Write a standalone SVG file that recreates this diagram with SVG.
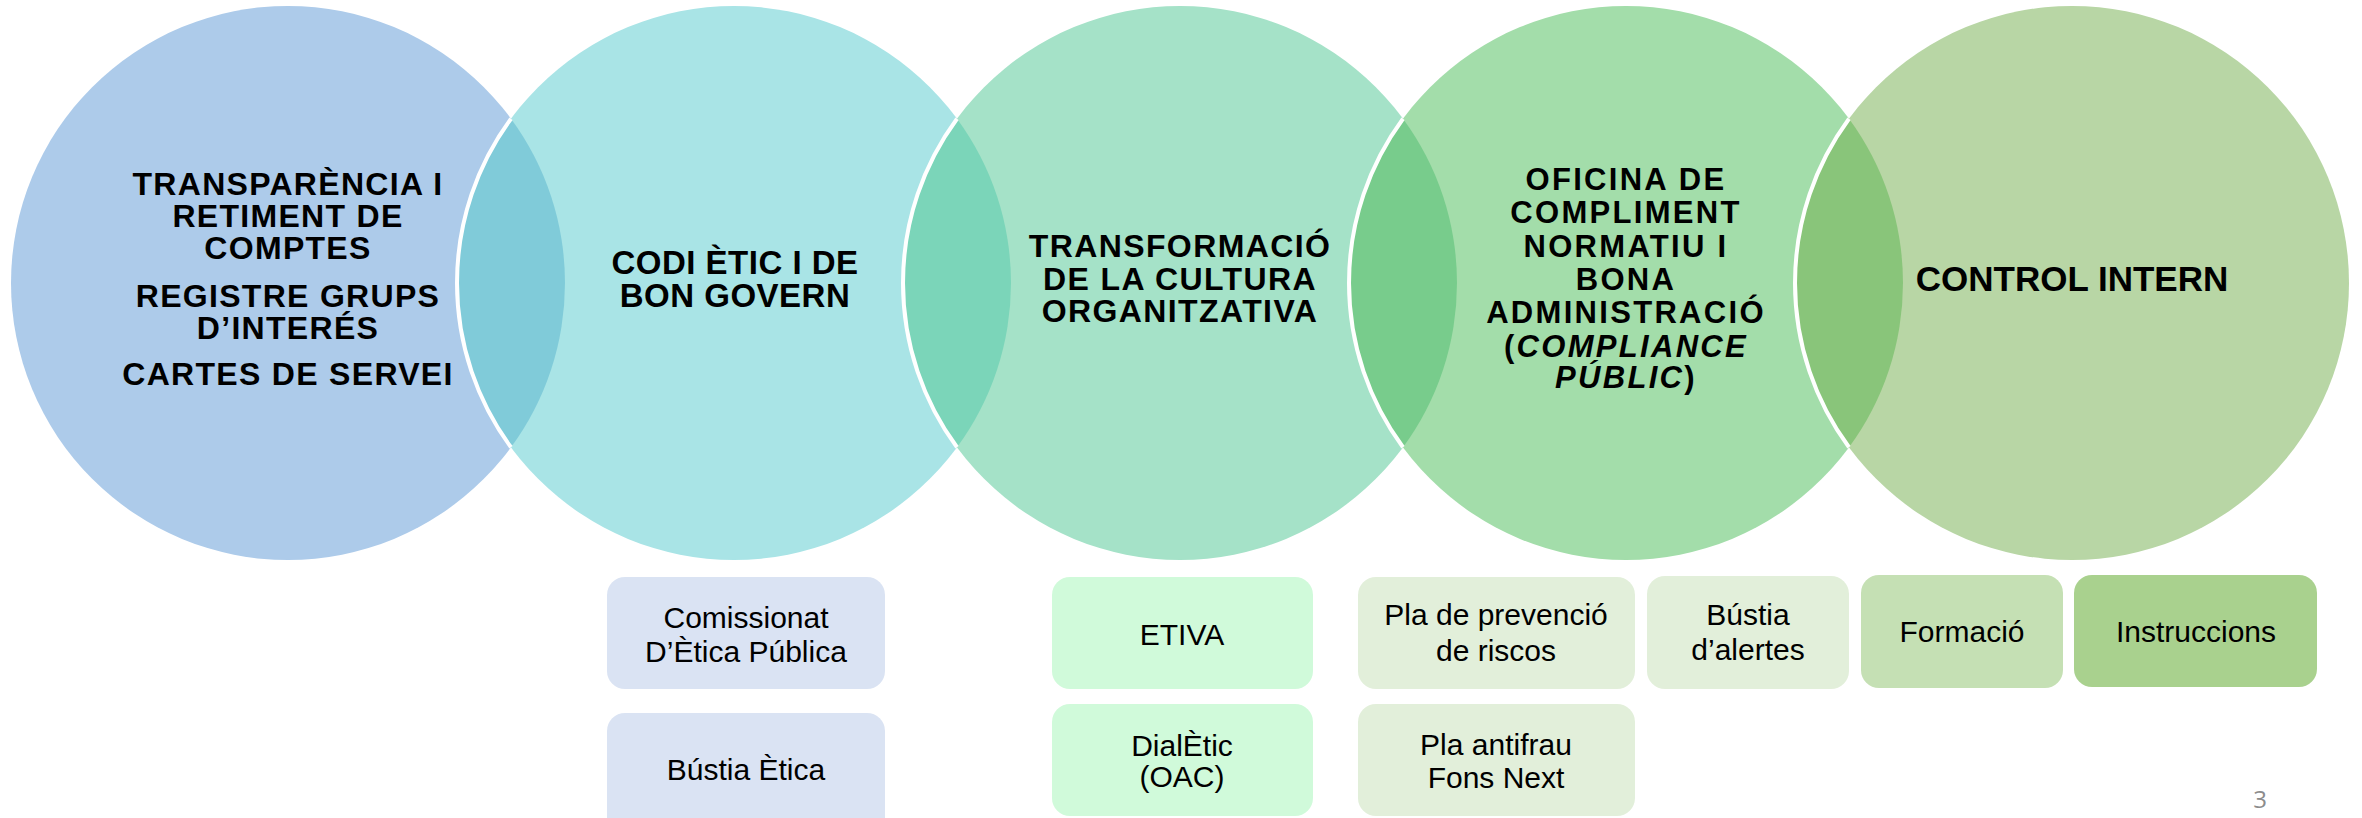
<svg xmlns="http://www.w3.org/2000/svg" width="2362" height="818" viewBox="0 0 2362 818">
<style>
.t{font-family:"Liberation Sans",Arial,sans-serif;font-weight:bold;fill:#000;text-anchor:middle}
.b{font-family:"Liberation Sans",Arial,sans-serif;fill:#000;text-anchor:middle;font-size:30px}
.sep{fill:none;stroke:#fff;stroke-width:4}
</style>
<rect width="2362" height="818" fill="#fff"/>
<g id="circle1"><circle cx="288" cy="283" r="277" fill="#ADCBEA"/></g>
<g id="circle2"><circle cx="734" cy="283" r="277" fill="#A9E4E6"/></g>
<g id="circle3"><circle cx="1180" cy="283" r="277" fill="#A5E2C8"/></g>
<g id="circle4"><circle cx="1626" cy="283" r="277" fill="#A3DDAA"/></g>
<g id="circle5"><circle cx="2072" cy="283" r="277" fill="#B8D6A5"/></g>
<g id="overlaps">
<path d="M511 118.7 A277 277 0 0 0 511 447.3 A277 277 0 0 0 511 118.7Z" fill="#80CBD9"/>
<path d="M957 118.7 A277 277 0 0 0 957 447.3 A277 277 0 0 0 957 118.7Z" fill="#7BD5B9"/>
<path d="M1403 118.7 A277 277 0 0 0 1403 447.3 A277 277 0 0 0 1403 118.7Z" fill="#78CC8C"/>
<path d="M1849 118.7 A277 277 0 0 0 1849 447.3 A277 277 0 0 0 1849 118.7Z" fill="#89C57A"/>
<path class="sep" d="M511 118.7 A277 277 0 0 0 511 447.3"/>
<path class="sep" d="M957 118.7 A277 277 0 0 0 957 447.3"/>
<path class="sep" d="M1403 118.7 A277 277 0 0 0 1403 447.3"/>
<path class="sep" d="M1849 118.7 A277 277 0 0 0 1849 447.3"/>
</g>
<g id="label1" class="t" font-size="32" letter-spacing="1.3">
<text x="288" y="195">TRANSPARÈNCIA I</text>
<text x="288" y="227">RETIMENT DE</text>
<text x="288" y="259">COMPTES</text>
<text x="288" y="307">REGISTRE GRUPS</text>
<text x="288" y="339">D’INTERÉS</text>
<text x="288" y="385">CARTES DE SERVEI</text>
</g>
<g id="label2" class="t" font-size="33" letter-spacing="0.5">
<text x="735" y="274">CODI ÈTIC I DE</text>
<text x="735" y="307">BON GOVERN</text>
</g>
<g id="label3" class="t" font-size="32" letter-spacing="1.4">
<text x="1180" y="257">TRANSFORMACIÓ</text>
<text x="1180" y="290">DE LA CULTURA</text>
<text x="1180" y="322">ORGANITZATIVA</text>
</g>
<g id="label4" class="t" font-size="31" letter-spacing="2.3">
<text x="1626" y="190">OFICINA DE</text>
<text x="1626" y="223">COMPLIMENT</text>
<text x="1626" y="257">NORMATIU I</text>
<text x="1626" y="290">BONA</text>
<text x="1626" y="323">ADMINISTRACIÓ</text>
<text x="1626" y="357">(<tspan font-style="italic">COMPLIANCE</tspan></text>
<text x="1626" y="388"><tspan font-style="italic">PÚBLIC</tspan>)</text>
</g>
<g id="label5" class="t" font-size="35">
<text x="2072" y="291">CONTROL INTERN</text>
</g>
<g id="box-comissionat"><rect x="607" y="577" width="278" height="112" rx="18" fill="#DAE3F3"/>
<text class="b" x="746" y="628">Comissionat</text><text class="b" x="746" y="662">D’Ètica Pública</text></g>
<g id="box-bustia-etica"><rect x="607" y="713" width="278" height="125" rx="18" fill="#DAE3F3"/>
<text class="b" x="746" y="780">Bústia Ètica</text></g>
<g id="box-etiva"><rect x="1052" y="577" width="261" height="112" rx="18" fill="#D0FADA"/>
<text class="b" x="1182" y="645">ETIVA</text></g>
<g id="box-dialetic"><rect x="1052" y="704" width="261" height="112" rx="18" fill="#D0FADA"/>
<text class="b" x="1182" y="756">DialÈtic</text><text class="b" x="1182" y="787">(OAC)</text></g>
<g id="box-pla-prevencio"><rect x="1358" y="577" width="277" height="112" rx="18" fill="#E2EFDA"/>
<text class="b" x="1496" y="625">Pla de prevenció</text><text class="b" x="1496" y="661">de riscos</text></g>
<g id="box-pla-antifrau"><rect x="1358" y="704" width="277" height="112" rx="18" fill="#E2EFDA"/>
<text class="b" x="1496" y="755" font-size="26">Pla antifrau</text><text class="b" x="1496" y="788" font-size="26">Fons Next</text></g>
<g id="box-bustia-alertes"><rect x="1647" y="576" width="202" height="113" rx="18" fill="#E2EFDA"/>
<text class="b" x="1748" y="625">Bústia</text><text class="b" x="1748" y="660">d’alertes</text></g>
<g id="box-formacio"><rect x="1861" y="575" width="202" height="113" rx="18" fill="#C5E0B4"/>
<text class="b" x="1962" y="642">Formació</text></g>
<g id="box-instruccions"><rect x="2074" y="575" width="243" height="112" rx="18" fill="#A9D18E"/>
<text class="b" x="2196" y="642">Instruccions</text></g>
<g id="connectors"></g>
<text x="2260" y="808" font-family="'Open Sans','Liberation Sans',sans-serif" font-size="24" fill="#8C8C8C" text-anchor="middle">3</text>
</svg>
